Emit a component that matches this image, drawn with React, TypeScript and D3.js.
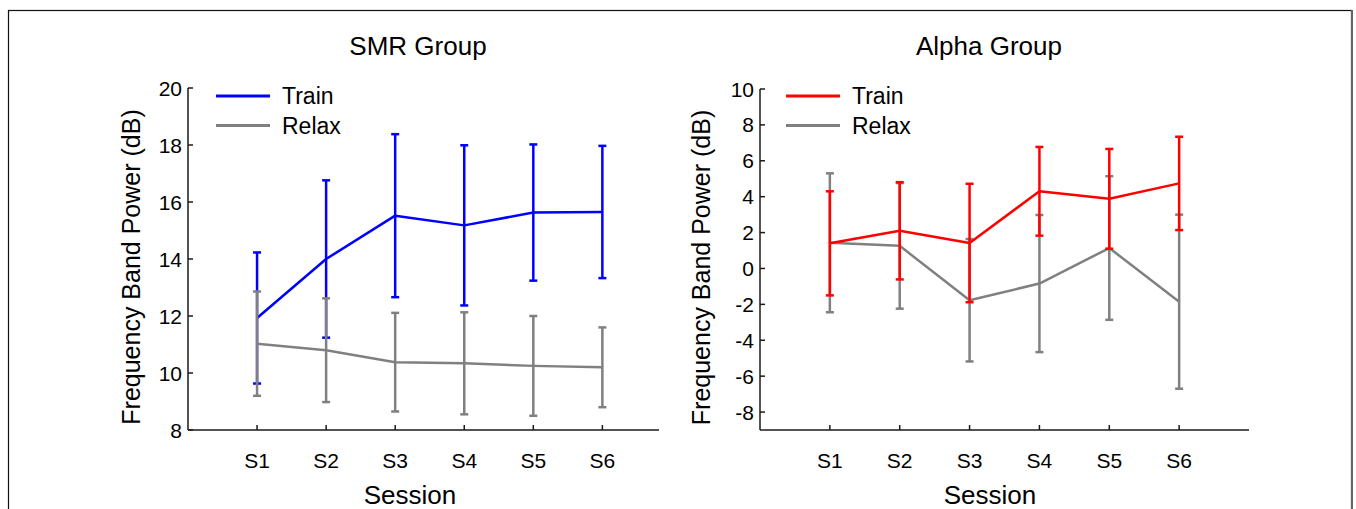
import React from "react";
import * as d3 from "d3";

const sessions = ["S1", "S2", "S3", "S4", "S5", "S6"];

const smrTrainMean = [11.93, 14.0, 15.52, 15.18, 15.63, 15.65];
const smrTrainErr = [2.3, 2.76, 2.86, 2.81, 2.39, 2.32];
const smrRelaxMean = [11.03, 10.8, 10.38, 10.34, 10.25, 10.2];
const smrRelaxErr = [1.83, 1.82, 1.73, 1.79, 1.75, 1.4];

const alphaTrainMean = [1.4, 2.1, 1.42, 4.3, 3.88, 4.74];
const alphaTrainErr = [2.9, 2.71, 3.3, 2.47, 2.78, 2.6];
const alphaRelaxMean = [1.43, 1.26, -1.77, -0.84, 1.14, -1.85];
const alphaRelaxErr = [3.87, 3.5, 3.41, 3.82, 4.0, 4.85];

const smrTicks = [8, 10, 12, 14, 16, 18, 20];
const alphaTicks = [-8, -6, -4, -2, 0, 2, 4, 6, 8, 10];

const FONT = "'Liberation Sans', Arial, Helvetica, sans-serif";
const BLUE = "#0000ff";
const RED = "#ff0000";
const GREY = "#808080";
const AXIS = "#1a1a1a";

type Series = { mean: number[]; err: number[]; color: string; label: string };

type PanelProps = {
  title: string;
  x0: number;
  x1: number;
  xMax: number;
  yTop: number;
  yBottom: number;
  yDomain: [number, number];
  yTicks: number[];
  titleX: number;
  sessionX: number;
  yLabelX: number;
  legendX: number;
  under: Series;
  over: Series;
  legendOrder: Series[];
};

function Panel(p: PanelProps) {
  const x = d3.scaleLinear().domain([0, p.xMax]).range([p.x0, p.x1]);
  const y = d3.scaleLinear().domain(p.yDomain).range([p.yBottom, p.yTop]);
  const line = d3
    .line<number>()
    .x((_, i) => x(i + 1))
    .y((d) => y(d));
  const cap = 4;

  const drawSeries = (s: Series, key: string) => (
    <g key={key}>
      <path d={line(s.mean) || ""} fill="none" stroke={s.color} strokeWidth={2.5} strokeLinejoin="round" />
      {s.mean.map((m, i) => {
        const cx = x(i + 1);
        const yt = y(m + s.err[i]);
        const yb = y(m - s.err[i]);
        return (
          <g key={i} stroke={s.color} strokeWidth={2.5}>
            <line x1={cx} x2={cx} y1={yt} y2={yb} />
            <line x1={cx - cap} x2={cx + cap} y1={yt} y2={yt} />
            <line x1={cx - cap} x2={cx + cap} y1={yb} y2={yb} />
          </g>
        );
      })}
    </g>
  );

  return (
    <g fontFamily={FONT} fill="#000">
      <text x={p.titleX} y={55} fontSize={26} textAnchor="middle">
        {p.title}
      </text>
      {/* axes */}
      <line x1={p.x0} x2={p.x0} y1={p.yTop} y2={p.yBottom} stroke={AXIS} strokeWidth={1.5} />
      <line x1={p.x0} x2={p.x1} y1={p.yBottom} y2={p.yBottom} stroke={AXIS} strokeWidth={1.5} />
      {p.yTicks.map((t) => (
        <g key={t}>
          <line x1={p.x0} x2={p.x0 + 5} y1={y(t)} y2={y(t)} stroke={AXIS} strokeWidth={1.5} />
          <text x={p.x0 - 6} y={y(t)} dy="0.36em" fontSize={21} textAnchor="end">
            {t}
          </text>
        </g>
      ))}
      {sessions.map((s, i) => (
        <g key={s}>
          <line x1={x(i + 1)} x2={x(i + 1)} y1={p.yBottom} y2={p.yBottom - 5} stroke={AXIS} strokeWidth={1.5} />
          <text x={x(i + 1)} y={468} fontSize={21} textAnchor="middle">
            {s}
          </text>
        </g>
      ))}
      <text x={p.sessionX} y={504} fontSize={26} textAnchor="middle">
        Session
      </text>
      <text
        transform={`translate(${p.yLabelX},${(p.yTop + p.yBottom) / 2 + 8}) rotate(-90)`}
        fontSize={25}
        textAnchor="middle"
        dy="0.35em"
      >
        Frequency Band Power (dB)
      </text>
      {drawSeries(p.under, "u")}
      {drawSeries(p.over, "o")}
      {/* legend */}
      {p.legendOrder.map((s, i) => (
        <g key={s.label}>
          <line
            x1={p.legendX}
            x2={p.legendX + 54}
            y1={96 + i * 29.5}
            y2={96 + i * 29.5}
            stroke={s.color}
            strokeWidth={3}
          />
          <text x={p.legendX + 66} y={96 + i * 29.5} dy="0.36em" fontSize={23}>
            {s.label}
          </text>
        </g>
      ))}
    </g>
  );
}

export default function App() {
  const smrTrain: Series = { mean: smrTrainMean, err: smrTrainErr, color: BLUE, label: "Train" };
  const smrRelax: Series = { mean: smrRelaxMean, err: smrRelaxErr, color: GREY, label: "Relax" };
  const alphaTrain: Series = { mean: alphaTrainMean, err: alphaTrainErr, color: RED, label: "Train" };
  const alphaRelax: Series = { mean: alphaRelaxMean, err: alphaRelaxErr, color: GREY, label: "Relax" };

  return (
    <div style={{ position: "absolute", left: 0, top: 0 }}>
      <svg width={1356} height={509} style={{ display: "block", background: "#fff" }}>
        <rect x={8.5} y={10.5} width={1343} height={520} fill="#fff" stroke="#111" strokeWidth={1.2} />
        <line x1={1352} x2={1352} y1={10} y2={509} stroke="#666" strokeWidth={2} />
        <Panel
          title="SMR Group"
          x0={188}
          x1={659}
          xMax={6.82}
          yTop={88}
          yBottom={430}
          yDomain={[8, 20]}
          yTicks={smrTicks}
          titleX={418}
          sessionX={410}
          yLabelX={131}
          legendX={216}
          under={smrTrain}
          over={smrRelax}
          legendOrder={[smrTrain, smrRelax]}
        />
        <Panel
          title="Alpha Group"
          x0={760}
          x1={1249}
          xMax={7}
          yTop={89}
          yBottom={430}
          yDomain={[-9, 10]}
          yTicks={alphaTicks}
          titleX={989}
          sessionX={990}
          yLabelX={701}
          legendX={786}
          under={alphaRelax}
          over={alphaTrain}
          legendOrder={[alphaTrain, alphaRelax]}
        />
      </svg>
    </div>
  );
}
